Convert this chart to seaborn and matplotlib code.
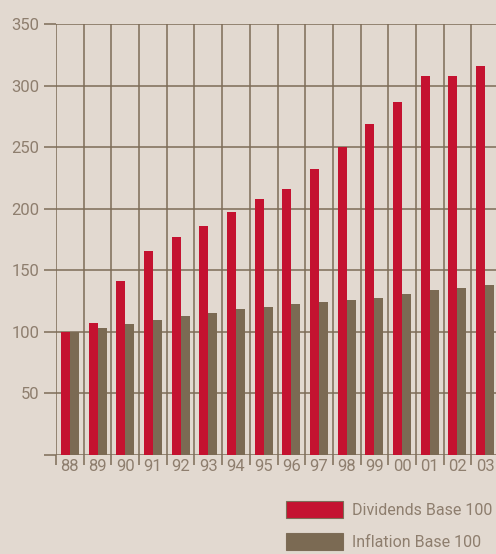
import matplotlib
matplotlib.use('Agg')
import matplotlib.pyplot as plt
from matplotlib.patches import Patch
from matplotlib.ticker import MultipleLocator, FixedLocator
import seaborn as sns
import pandas as pd
import numpy as np

years = ['88', '89', '90', '91', '92', '93', '94', '95', '96', '97', '98', '99', '00', '01', '02', '03']
dividends = [100, 107, 141, 166, 177, 186, 197, 208, 216, 232, 250, 269, 287, 308, 308, 316]
inflation = [100, 103, 106, 110, 113, 115, 118.5, 120, 122.5, 124, 126, 127.5, 131, 134, 135.5, 138]
series_names = ['Dividends Base 100', 'Inflation Base 100']

RED = '#c41230'
BROWN = '#7b6a53'
BG = '#e2d9d0'
LINE = '#7d6c57'
TEXT = '#8e7e6e'

df = pd.DataFrame({
    'Year': years * 2,
    'Value': dividends + inflation,
    'Series': [series_names[0]] * len(years) + [series_names[1]] * len(years),
})

sns.set_style('white')
plt.rcParams['font.family'] = ['Roboto', 'DejaVu Sans']

fig = plt.figure(figsize=(4.96, 5.54), dpi=100)
fig.patch.set_facecolor(BG)
ax = fig.add_axes([56 / 496, 99 / 554, 443 / 496, 431 / 554])
ax.set_facecolor(BG)

sns.barplot(data=df, x='Year', y='Value', hue='Series', order=years,
            palette=[RED, BROWN], width=0.65, gap=0, saturation=1,
            edgecolor='none', linewidth=0, ax=ax, legend=False)

ax.set_xlim(-0.5, len(years) - 0.5)
ax.set_ylim(0, 350)
ax.set_axisbelow(True)
ax.yaxis.set_major_locator(MultipleLocator(50))
ax.xaxis.set_minor_locator(FixedLocator(np.arange(-0.5, len(years), 1.0)))
ax.grid(True, axis='y', which='major', color=LINE, linewidth=1.1)
ax.grid(True, axis='x', which='minor', color=LINE, linewidth=1.1)
ax.grid(False, axis='x', which='major')
for s in ax.spines.values():
    s.set_visible(False)

ax.tick_params(axis='y', which='major', length=9, width=1.1, color=LINE,
               labelsize=12, labelcolor=TEXT, pad=3, left=True)
ax.tick_params(axis='x', which='major', length=0, labelsize=12, labelcolor=TEXT, pad=3)
ax.tick_params(axis='x', which='minor', length=7, width=1.1, color=LINE, bottom=True)
ax.set_yticklabels(['' if v == 0 else str(int(v)) for v in ax.get_yticks()])
ax.set_xlabel('')
ax.set_ylabel('')

handles = [Patch(facecolor=RED, edgecolor=LINE, linewidth=0.8),
           Patch(facecolor=BROWN, edgecolor=LINE, linewidth=0.8)]
leg = fig.legend(handles, series_names, loc='lower left', bbox_to_anchor=(280 / 496, -0.004),
                 frameon=False, fontsize=11.5, handlelength=3.55, handleheight=1.25,
                 handletextpad=0.55, labelspacing=0.92, borderaxespad=0)
for t in leg.get_texts():
    t.set_color(TEXT)

fig.savefig('out.png', dpi=100, facecolor=BG)
